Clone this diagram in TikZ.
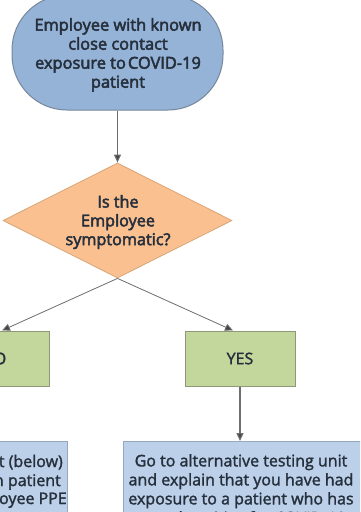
\documentclass[tikz,border=0pt]{standalone}
\usepackage{fontspec}
\setmainfont{Open Sans}[FakeBold=1.8]
\newfontfamily\heavyfont{Open Sans}[FakeBold=3]
\usetikzlibrary{shapes.geometric,arrows.meta}
\definecolor{startfill}{HTML}{95B3D7}
\definecolor{startdraw}{HTML}{76879B}
\definecolor{decfill}{HTML}{FAC090}
\definecolor{decdraw}{HTML}{D9A678}
\definecolor{boxfill}{HTML}{C3D69B}
\definecolor{boxdraw}{HTML}{8E9878}
\definecolor{actfill}{HTML}{BCD0E9}
\definecolor{actdraw}{HTML}{93A7BF}
\definecolor{txt}{HTML}{26303C}
\definecolor{linec}{HTML}{6E6E6E}
\definecolor{headc}{HTML}{454545}
\tikzset{
  base/.style={text=txt, font=\fontsize{16}{19}\selectfont, inner sep=0pt},
  startbox/.style={base, draw=startdraw, fill=startfill, line width=1pt, rounded corners=55pt, minimum width=211pt, minimum height=115pt},
  decbox/.style={base, shape=diamond, draw=decdraw, fill=decfill, line width=0.8pt, aspect=2, minimum width=229pt, minimum height=115pt},
  ansbox/.style={base, draw=boxdraw, fill=boxfill, line width=1pt, minimum width=110pt, minimum height=55pt},
  actbox/.style={draw=actdraw, fill=actfill, line width=1pt, inner sep=0pt},
  lbl/.style={base, align=center},
  conn/.style={draw=linec, line width=1.1pt, -{Triangle[length=8pt,width=7pt,fill=headc]}},
}
\begin{document}
\begin{tikzpicture}[x=1pt,y=-1pt]
\useasboundingbox (0,0) rectangle (360,512);
\clip (0,0) rectangle (360,512);
\fill[white] (0,0) rectangle (360,512);
\node[startbox] (start) at (117.5,52.5) {};
\node[lbl, anchor=north, font=\heavyfont\fontsize{16.4}{19}\selectfont] (starttext) at (118,18) {Employee with known\\close contact\\exposure to\hspace{2pt}COVID-19\\patient};
\node[decbox] (dec) at (117.5,220.5) {};
\node[lbl, anchor=north, font=\heavyfont\fontsize{16.2}{18.8}\selectfont] (dectext) at (118,195) {Is the\\Employee\\symptomatic?};
\node[ansbox] (no) at (-6,358.5) {NO};
\node[ansbox] (yes) at (240,358.5) {YES};
\node[actbox, anchor=north west, minimum width=250pt, minimum height=120pt] (right) at (123,441) {};
\node[actbox, anchor=north east, minimum width=200pt, minimum height=120pt] (left) at (68,441) {};
\node[lbl, anchor=north] (righttext) at (241,454) {Go to alternative testing unit\\and explain that you have had\\exposure to a patient who has\\tested positive for COVID-19};
\node[base, anchor=base east] (l1) at (63,467) {t (below)};
\node[base, anchor=base east] (l2) at (61,486) {n patient};
\node[base, anchor=base east] (l3) at (67,504) {oyee PPE};
\draw[conn] (start.south) -- (dec.north);
\draw[conn, line width=0.8pt] (dec.south) -- ([xshift=8pt]no.north);
\draw[conn, line width=0.8pt] (dec.south) -- ([xshift=-7pt]yes.north);
\draw[conn] (no.south) -- (no.south |- left.north);
\draw[conn] (yes.south) -- (yes.south |- right.north);
\end{tikzpicture}
\end{document}
